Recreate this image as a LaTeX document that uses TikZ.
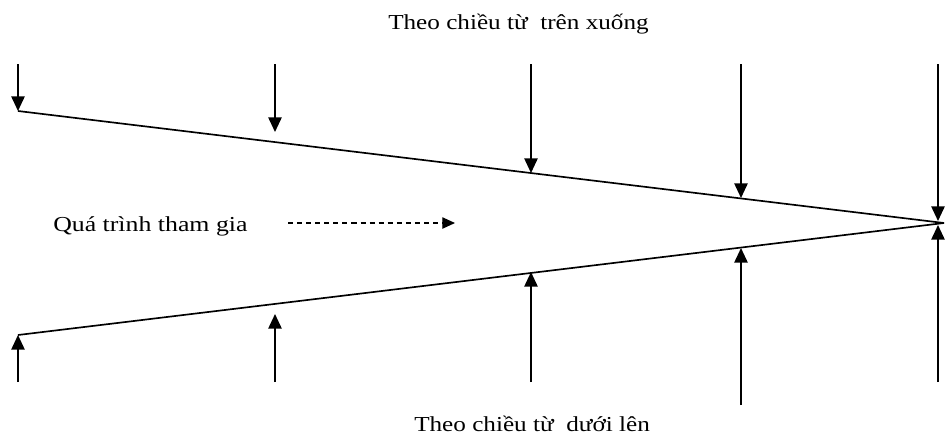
\documentclass[tikz,border=0pt]{standalone}
\usepackage{fontspec}
\setmainfont{Liberation Serif}
\usetikzlibrary{arrows.meta}
\begin{document}
\begin{tikzpicture}[x=0.75pt,y=-0.75pt,
  flow/.style={line width=1.25pt,-{Triangle[length=11pt,width=10pt]}},
  edge/.style={line width=1.25pt},
  dflow/.style={line width=0.9pt,dash pattern=on 3.8pt off 3pt,-{Triangle[length=9.5pt,width=8.5pt]}},
  lbl/.style={inner sep=0pt,anchor=base west,font=\fontsize{16pt}{18pt}\selectfont}]
\useasboundingbox (0,0) rectangle (946,440);
% converging lines
\coordinate (tl) at (18,111);
\coordinate (bl) at (18,335);
\coordinate (apex) at (944,223);
\draw[edge] (tl) -- (apex);
\draw[edge] (bl) -- (apex);
% top arrows
\coordinate (t1s) at (18,64);  \coordinate (t1e) at (18,111);
\coordinate (t2s) at (275,64); \coordinate (t2e) at (275,132);
\coordinate (t3s) at (531,64); \coordinate (t3e) at (531,173);
\coordinate (t4s) at (741,64); \coordinate (t4e) at (741,198);
\coordinate (t5s) at (938,64); \coordinate (t5e) at (938,221);
\foreach \i in {1,...,5} \draw[flow] (t\i s) -- (t\i e);
% bottom arrows
\coordinate (b1s) at (18,382);  \coordinate (b1e) at (18,335);
\coordinate (b2s) at (275,382); \coordinate (b2e) at (275,314);
\coordinate (b3s) at (531,382); \coordinate (b3e) at (531,272);
\coordinate (b4s) at (741,405); \coordinate (b4e) at (741,248);
\coordinate (b5s) at (938,382); \coordinate (b5e) at (938,225);
\foreach \i in {1,...,5} \draw[flow] (b\i s) -- (b\i e);
% labels
\node[lbl] (top) at (388,29) {\scalebox{1.18}[1]{Theo chiều từ\ \ trên xuống}};
\node[lbl] (bot) at (414,431) {\scalebox{1.18}[1]{Theo chiều từ\ \ dưới lên}};
\node[lbl] (mid) at (53,231) {\scalebox{1.21}[1]{Quá trình tham gia}};
\coordinate (ds) at (288,223);
\coordinate (de) at (455,223);
\draw[dflow] (ds) -- (de);
\end{tikzpicture}
\end{document}
